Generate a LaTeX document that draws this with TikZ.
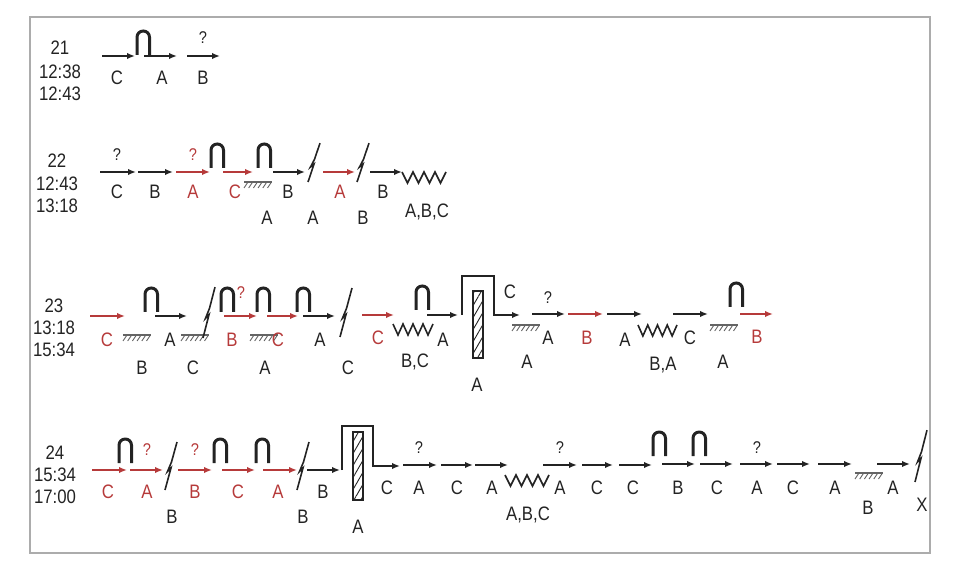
\documentclass[tikz,border=0pt]{standalone}
\usepackage{fontspec}
\setmainfont{Liberation Sans}[FakeStretch=0.86]
\usetikzlibrary{arrows.meta,patterns.meta}
\definecolor{dk}{RGB}{35,35,35}
\definecolor{rd}{RGB}{182,58,58}
\definecolor{gr}{RGB}{100,100,100}
\newcommand\Ar[4][ar]{\draw[#1] (#2,#4) -- (#3,#4);}
\newcommand\Lb[3][lb]{\node[#1] at (#2) {#3};}
\newcommand\Arch[2]{\draw[archst] (#1,#2) -- (#1,{#2-24}) -- ({#1+12.5},{#2-24}) -- ({#1+12.5},#2);}
\newcommand\Gnd[2]{\draw[gr,line width=1.1pt] (#1,#2) -- ++(28,0);
  \foreach \k in {0,...,5}{\draw[gr,line width=0.9pt] ({#1+4+\k*4.7},#2) -- ++(-4,6);}}
\newcommand\Bolt[3]{\begin{scope}[shift={(#1,#2)},yscale=#3]
  \draw[dk,line width=1.6pt] (0,0) -- (6,-22) -- (2.5,-18.5) -- (6.5,-28) -- (12,-48);
  \end{scope}}
\newcommand\Zig[3]{\draw[dk,line width=1.6pt] (#1,#2)
  \foreach \k in {1,...,4}{ -- ++({#3/8},11) -- ++({#3/8},-11)};}
\newcommand\Hrect[4]{\draw[dk,line width=1.3pt,pattern={Lines[angle=60,distance=6pt,line width=0.9pt]},pattern color=dk] (#1,#2) rectangle (#3,#4);}
\begin{document}
\begin{tikzpicture}[x=1pt,y=-1pt,
  ar/.style={line width=1.9pt,draw=dk,-{Latex[length=8pt,width=6.5pt]}},
  rar/.style={ar,draw=rd},
  archst/.style={line width=3pt,draw=dk,rounded corners=6.2pt},
  lb/.style={font=\fontsize{19.5}{19.5}\selectfont,text=dk,inner sep=0},
  rlb/.style={lb,text=rd},
  qm/.style={font=\fontsize{17}{17}\selectfont,text=dk,inner sep=0},
  rqm/.style={qm,text=rd},
  tm/.style={font=\fontsize{19.5}{19.5}\selectfont,text=dk,inner sep=0}]
\useasboundingbox (0,0) rectangle (964,585);
\draw[gray!65,line width=1.3pt] (30,17) rectangle (930,553);

% ---------------- Row 1
\Lb[tm]{60,48}{21}\Lb[tm]{60,72}{12:38}\Lb[tm]{60,94}{12:43}
\Ar{102}{135}{56}\Arch{137}{55}\Ar{144}{177}{56}\Ar{187}{220}{56}
\Lb[qm]{203,38}{?}
\Lb{117,78}{C}\Lb{162,78}{A}\Lb{203,78}{B}

% ---------------- Row 2
\Lb[tm]{57,161}{22}\Lb[tm]{57,184}{12:43}\Lb[tm]{57,206}{13:18}
\Ar{100}{136}{172}\Ar{138}{173}{172}\Ar[rar]{176}{210}{172}
\Arch{211}{168}\Ar[rar]{223}{253}{172}\Arch{258}{168}
\Gnd{244}{182}
\Ar{273}{305}{172}\Bolt{308}{182}{0.81}
\Ar[rar]{323}{355}{172}\Bolt{357}{182}{0.81}
\Ar{370}{402}{172}\Zig{402}{172}{44}
\Lb[qm]{117,155}{?}\Lb[rqm]{193,155}{?}
\Lb{117,192}{C}\Lb{155,192}{B}\Lb[rlb]{193,192}{A}\Lb[rlb]{235,192}{C}
\Lb{267,218}{A}\Lb{288,192}{B}\Lb{313,218}{A}\Lb[rlb]{340,192}{A}
\Lb{363,218}{B}\Lb{383,192}{B}\Lb{427,212}{A,B,C}

% ---------------- Row 3
\Lb[tm]{54,306}{23}\Lb[tm]{54,328}{13:18}\Lb[tm]{54,350}{15:34}
\Ar[rar]{90}{125}{316}\Gnd{123}{335}\Arch{145}{312}\Ar{155}{187}{316}
\Gnd{181}{335}\Bolt{203}{338}{1.06}
\Arch{221}{312}\Ar[rar]{224}{257}{316}\Arch{257}{312}\Gnd{250}{335}
\Ar[rar]{267}{298}{316}\Arch{297}{312}\Ar{303}{335}{316}\Bolt{340}{337}{1.02}
\Ar[rar]{362}{394}{315}\Zig{393}{324}{40}\Arch{416}{310}\Ar{427}{458}{315}
\draw[ar] (462,315) -- (462,276) -- (494,276) -- (494,315) -- (520,315);
\Hrect{473}{291}{483}{358}
\Gnd{512}{325}\Ar{532}{565}{314}\Ar[rar]{568}{603}{314}\Ar{607}{642}{314}
\Zig{638}{325}{39}\Ar{673}{708}{314}\Gnd{710}{325}\Arch{730}{307}\Ar[rar]{740}{773}{314}
\Lb[rqm]{241,293}{?}\Lb[qm]{548,298}{?}
\Lb[rlb]{107,340}{C}\Lb{142,368}{B}\Lb{170,340}{A}\Lb{193,368}{C}
\Lb[rlb]{232,340}{B}\Lb{265,368}{A}\Lb[rlb]{278,340}{C}\Lb{320,340}{A}\Lb{348,368}{C}
\Lb[rlb]{378,338}{C}\Lb{415,362}{B,C}\Lb{443,340}{A}\Lb{477,385}{A}\Lb{510,292}{C}
\Lb{527,362}{A}\Lb{548,338}{A}\Lb[rlb]{587,338}{B}\Lb{625,340}{A}\Lb{663,365}{B,A}
\Lb{690,338}{C}\Lb{723,362}{A}\Lb[rlb]{757,337}{B}

% ---------------- Row 4
\Lb[tm]{55,453}{24}\Lb[tm]{55,475}{15:34}\Lb[tm]{55,497}{17:00}
\Ar[rar]{92}{127}{470}\Arch{119}{463}\Ar[rar]{130}{163}{470}\Bolt{165}{490}{1}
\Ar[rar]{178}{212}{470}\Arch{214}{463}\Ar[rar]{222}{255}{470}\Arch{256}{463}
\Ar[rar]{263}{297}{470}\Bolt{297}{490}{1}\Ar{307}{340}{470}
\draw[ar] (342,470) -- (342,426) -- (373,426) -- (373,466) -- (400,466);
\Hrect{353}{432}{363}{500}
\Ar{403}{437}{465}\Ar{441}{473}{465}\Ar{475}{508}{465}\Zig{505}{475}{44}
\Ar{543}{577}{465}\Ar{582}{613}{465}\Ar{619}{652}{465}\Arch{653}{456}
\Ar{662}{695}{464}\Arch{693}{456}\Ar{700}{733}{464}\Ar{740}{773}{464}
\Ar{777}{810}{464}\Ar{818}{852}{464}\Gnd{855}{473}\Ar{877}{910}{464}\Bolt{915}{482}{1.08}
\Lb[rqm]{147,450}{?}\Lb[rqm]{195,450}{?}\Lb[qm]{419,448}{?}\Lb[qm]{560,448}{?}\Lb[qm]{757,448}{?}
\Lb[rlb]{108,492}{C}\Lb[rlb]{147,492}{A}\Lb{172,517}{B}\Lb[rlb]{195,492}{B}
\Lb[rlb]{238,492}{C}\Lb[rlb]{278,492}{A}\Lb{303,517}{B}\Lb{323,492}{B}\Lb{358,527}{A}
\Lb{387,488}{C}\Lb{419,488}{A}\Lb{457,488}{C}\Lb{492,488}{A}\Lb{528,515}{A,B,C}
\Lb{560,488}{A}\Lb{597,488}{C}\Lb{633,488}{C}\Lb{678,488}{B}\Lb{717,488}{C}
\Lb{757,488}{A}\Lb{793,488}{C}\Lb{835,488}{A}\Lb{868,508}{B}\Lb{893,488}{A}\Lb{922,505}{X}
\end{tikzpicture}
\end{document}
